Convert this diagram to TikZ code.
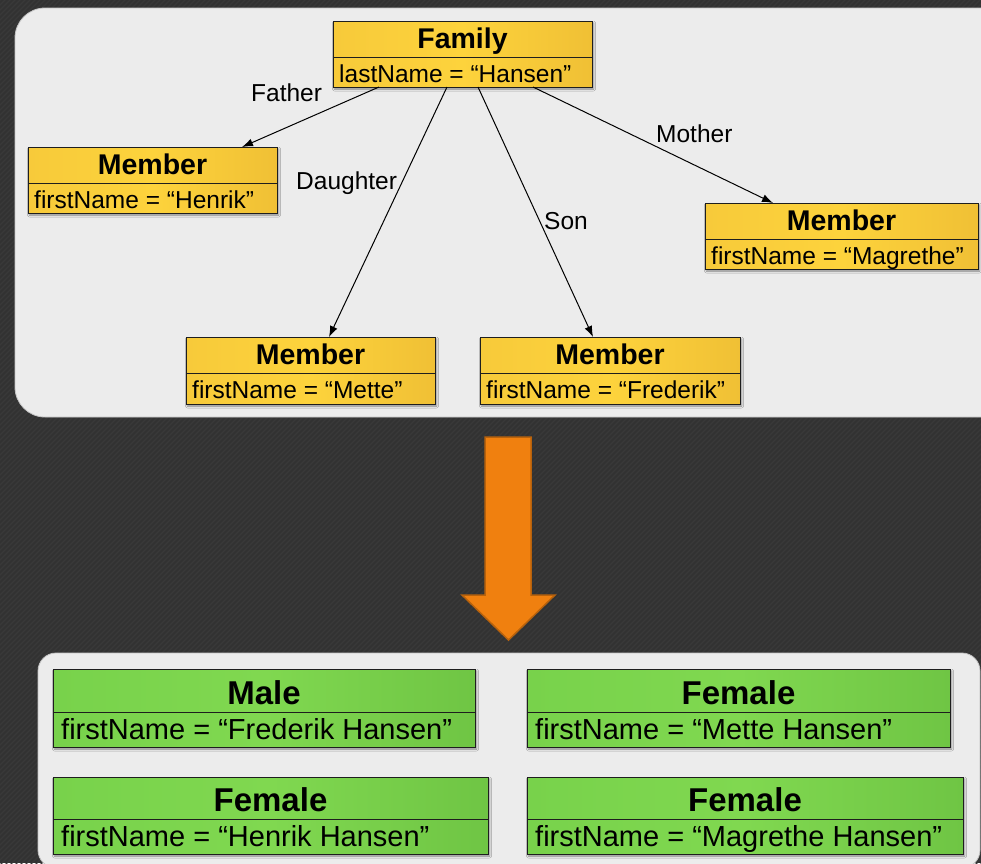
\documentclass[tikz,border=0pt]{standalone}
\usepackage{fontspec}
\setmainfont{Liberation Sans}
\usetikzlibrary{arrows.meta,shadows.blur}

\definecolor{bgdark}{HTML}{323232}
\definecolor{bgstripe}{HTML}{393939}
\definecolor{panelfill}{HTML}{ECECEC}
\definecolor{paneledge}{HTML}{C4C4C4}
\definecolor{yelL}{HTML}{F7CA3A}
\definecolor{yelM}{HTML}{FDD33C}
\definecolor{yelR}{HTML}{F0C035}
\definecolor{grnL}{HTML}{78D24B}
\definecolor{grnM}{HTML}{80D850}
\definecolor{grnR}{HTML}{6FC544}
\definecolor{arrowfill}{HTML}{F0800F}
\definecolor{arrowedge}{HTML}{B8620C}
\definecolor{boxedge}{HTML}{1E1E1E}

\tikzset{
  panel/.style={fill=panelfill, draw=paneledge, line width=0.8pt},
  boxbase/.style={draw=boxedge, line width=1pt, inner sep=0pt, outer sep=0pt,
    blur shadow={shadow xshift=1.5pt, shadow yshift=-2pt, shadow blur radius=2pt, shadow opacity=45}},
  ybox/.style={boxbase, left color=yelL, right color=yelR, middle color=yelM},
  gbox/.style={boxbase, left color=grnL, right color=grnR, middle color=grnM},
  divline/.style={draw=boxedge, line width=0.9pt},
  yhead/.style={inner sep=0pt, font=\fontsize{28.5}{32}\selectfont\bfseries},
  yattr/.style={inner sep=0pt, font=\fontsize{24.5}{28}\selectfont},
  ghead/.style={inner sep=0pt, font=\fontsize{33}{37}\selectfont\bfseries},
  gattr/.style={inner sep=0pt, font=\fontsize{29}{33}\selectfont},
  rolelabel/.style={inner sep=0pt, font=\fontsize{24.5}{28}\selectfont},
  rel/.style={draw=black, line width=1pt, -{Latex[length=11pt,width=8pt]}},
  bigarrow/.style={fill=arrowfill, draw=arrowedge, line width=1.5pt, line join=miter}
}

% yellow class box: name, x1, y1, x2, ydiv, y2, header, attribute
\newcommand{\yclass}[8]{%
  \node[ybox, anchor=north west, minimum width={(#4-#2)*1pt}, minimum height={(#6-#3)*1pt}] (#1) at (#2,#3) {};
  \draw[divline] (#2,#5) -- (#4,#5);
  \node[yhead, anchor=base] (#1-head) at ({(#2+#4)/2},#5-8.5) {#7};
  \node[yattr, anchor=base west] (#1-attr) at (#2+6,#5+25) {#8};
}
% green class box: name, x1, y1, x2, ydiv, y2, header, attribute
\newcommand{\gclass}[8]{%
  \node[gbox, anchor=north west, minimum width={(#4-#2)*1pt}, minimum height={(#6-#3)*1pt}] (#1) at (#2,#3) {};
  \draw[divline] (#2,#5) -- (#4,#5);
  \node[ghead, anchor=base] (#1-head) at ({(#2+#4)/2},#5-8) {#7};
  \node[gattr, anchor=base west] (#1-attr) at (#2+8,#5+27) {#8};
}

\begin{document}
\begin{tikzpicture}[x=1pt,y=-1pt]
  \useasboundingbox (0,0) rectangle (981,863);

  % striped dark backdrop
  \fill[bgdark] (0,0) rectangle (981,863);
  \begin{scope}
    \clip (0,0) rectangle (981,863);
    \foreach \i in {0,5,...,1860}
      \draw[bgstripe, line width=1.2pt] (\i,-5) -- (\i-880,875);
  \end{scope}

  % panels
  \draw[panel, rounded corners=30pt] (15,8) rectangle (1012,417);
  \draw[panel, rounded corners=18pt] (38,653) rectangle (980,868);

  % object model
  \yclass{family}{333}{21}{592}{57}{87}{Family}{lastName = “Hansen”}
  \yclass{henrik}{28}{147}{277}{183}{213}{Member}{firstName = “Henrik”}
  \yclass{mette}{186}{337}{435}{373}{404}{Member}{firstName = “Mette”}
  \yclass{frederik}{480}{337}{740}{373}{404}{Member}{firstName = “Frederik”}
  \yclass{magrethe}{705}{203}{978}{239}{269}{Member}{firstName = “Magrethe”}

  % references
  \draw[rel] ([xshift=-83.5pt]family.south) -- ([xshift=89.5pt]henrik.north);
  \draw[rel] ([xshift=-15.5pt]family.south) -- ([xshift=18.5pt]mette.north);
  \draw[rel] ([xshift=15.5pt]family.south) -- ([xshift=-17pt]frederik.north);
  \draw[rel] ([xshift=70.5pt]family.south) -- ([xshift=-68.5pt]magrethe.north);

  \node[rolelabel, anchor=base west] (lfather) at (251,101) {Father};
  \node[rolelabel, anchor=base west] (ldaughter) at (296,189) {Daughter};
  \node[rolelabel, anchor=base west] (lson) at (544,229) {Son};
  \node[rolelabel, anchor=base west] (lmother) at (656,142) {Mother};

  % transformation arrow
  \draw[bigarrow] (485,437) -- (531,437) -- (531,595) -- (555,595) -- (508.5,640)
    -- (462,595) -- (485,595) -- cycle;

  % resulting model
  \gclass{male}{53}{669}{475}{712}{747}{Male}{firstName = “Frederik Hansen”}
  \gclass{fmette}{527}{669}{950}{712}{747}{Female}{firstName = “Mette Hansen”}
  \gclass{fhenrik}{53}{777}{488}{819}{854}{Female}{firstName = “Henrik Hansen”}
  \gclass{fmagrethe}{527}{777}{963}{819}{854}{Female}{firstName = “Magrethe Hansen”}
\end{tikzpicture}
\end{document}
